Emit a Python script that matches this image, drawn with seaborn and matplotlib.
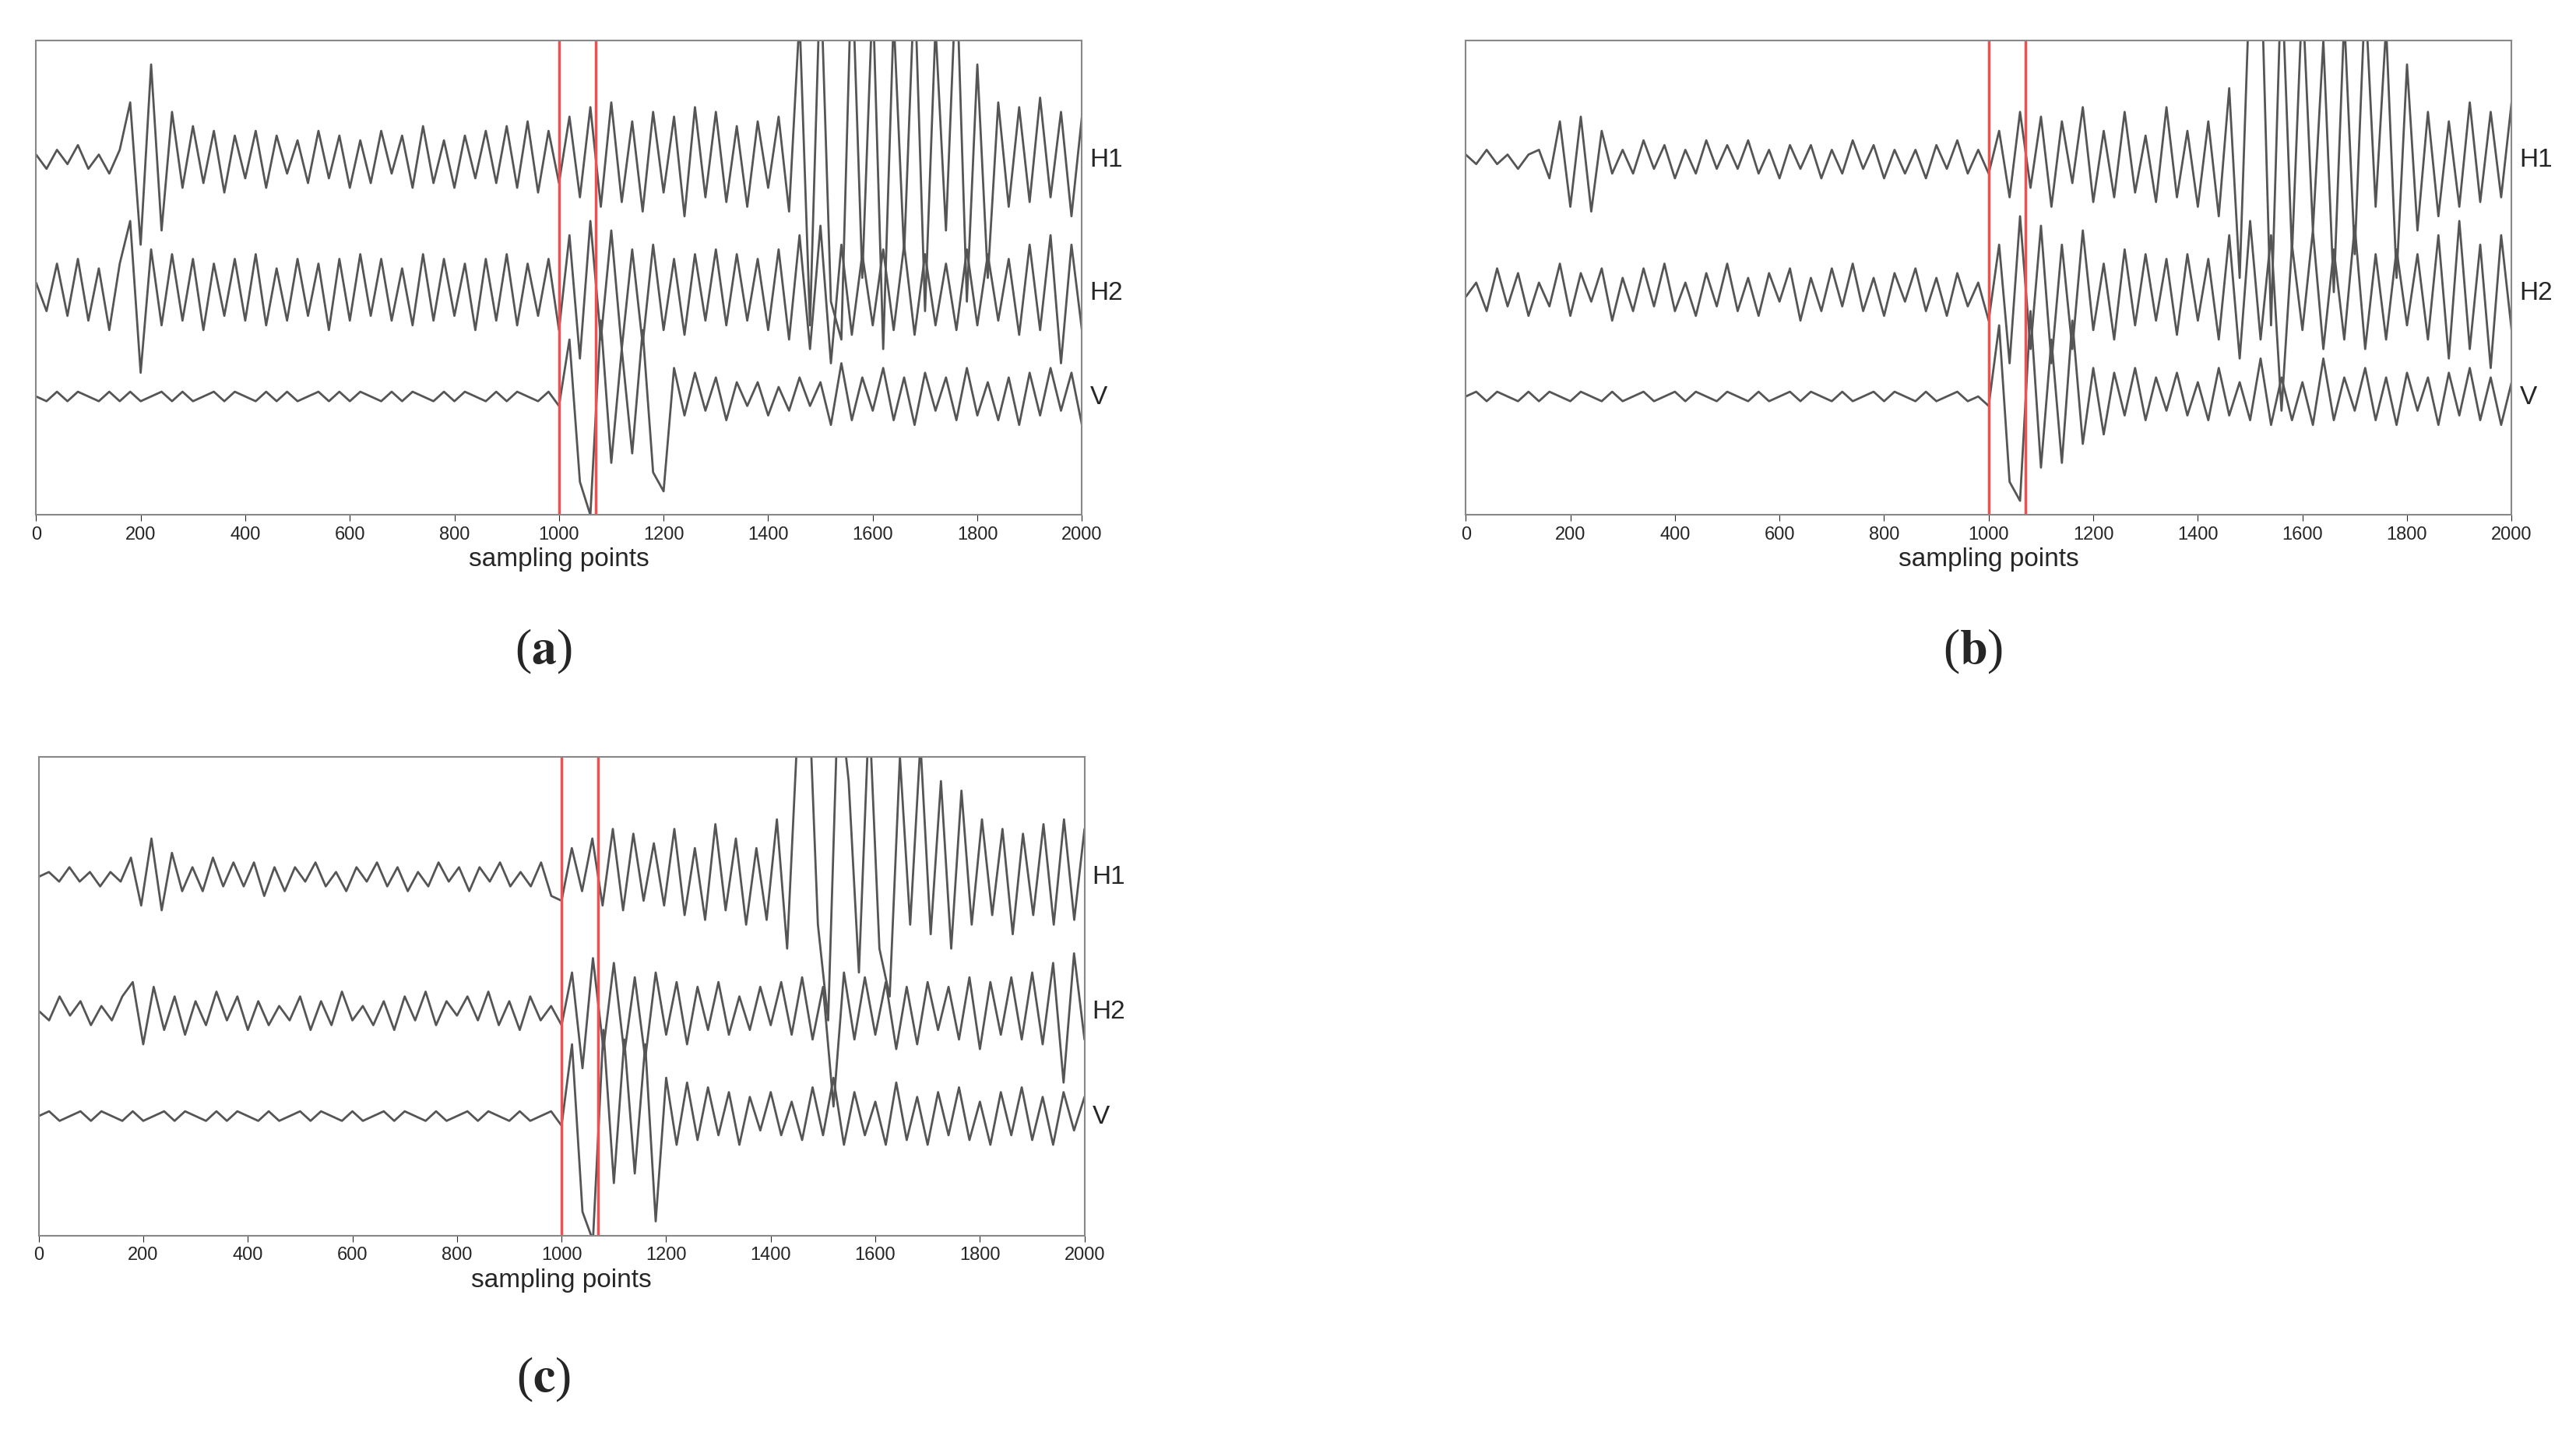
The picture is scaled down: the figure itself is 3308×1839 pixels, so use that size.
import numpy as np
import pandas as pd
import matplotlib
matplotlib.use("Agg")
import matplotlib.pyplot as plt
import seaborn as sns

sns.set_style("white")
plt.rcParams['font.family'] = ['Liberation Sans', 'DejaVu Sans']

# trace amplitudes, one value every ~20 sampling points
A_H1 = [1,-2,2,-1,3,-2,1,-3,2,12,-18,20,-15,10,-6,7,-5,6,-7,5,-4,6,-6,5,-3,4,-5,6,-4,5,-6,4,-5,6,-3,5,-6,7,-5,4,-6,5,-4,6,-5,7,-6,8,-7,6,-5,9,-8,11,-10,12,-9,8,-11,10,-7,9,-12,11,-8,10,-9,7,-10,8,-6,9,-11,30,-35,40,-30,-38,42,-25,35,-40,30,-20,38,-32,28,-15,40,-30,20,-25,12,-10,11,-9,13,-8,10,-12,9]
A_H2 = [2,-4,6,-5,7,-6,5,-8,6,15,-17,9,-7,8,-6,7,-8,6,-5,7,-6,8,-7,5,-6,7,-5,6,-8,7,-6,8,-5,7,-6,5,-7,8,-6,7,-5,6,-8,7,-6,8,-7,6,-5,7,-8,12,-14,15,-10,13,-12,9,-11,10,-8,7,-9,8,-6,9,-7,8,-6,7,-8,9,-10,12,-12,14,-15,10,-9,8,-7,9,-8,10,-9,8,-7,6,-8,9,-7,8,-6,7,-9,10,-8,12,-15,10,-8]
A_V = [0,-1,1,-1,1,0,-1,1,-1,1,-1,0,1,-1,1,-1,0,1,-1,1,0,-1,1,-1,1,-1,0,1,-1,1,-1,1,0,-1,1,-1,1,0,-1,1,-1,1,0,-1,1,-1,1,0,-1,1,-2,12,-18,-25,16,-14,10,-12,14,-16,-20,6,-4,5,-3,4,-5,3,-2,3,-4,2,-3,4,-2,3,-6,7,-5,4,-3,6,-5,4,-6,5,-3,4,-5,6,-4,3,-5,4,-6,5,-4,6,-3,5,-6]
B_H1 = [1,-1,2,-1,1,-2,1,2,-4,8,-10,9,-11,6,-3,2,-3,4,-2,3,-4,2,-3,4,-2,3,-2,4,-3,2,-4,3,-2,3,-4,2,-3,4,-2,3,-4,2,-3,2,-4,3,-2,4,-3,2,-3,6,-8,10,-6,9,-10,8,-5,11,-9,6,-8,10,-7,5,-9,11,-8,6,-10,8,-12,15,-25,40,45,-35,40,-20,35,-15,25,-28,30,-20,35,-10,28,-25,20,-15,10,-12,8,-10,12,-9,10,-8,12]
B_H2 = [-1,2,-4,5,-3,4,-5,2,-3,6,-5,4,-2,5,-6,3,-4,5,-3,6,-4,2,-5,4,-3,6,-4,3,-5,4,-2,5,-6,3,-4,5,-3,6,-4,3,-5,4,-2,5,-4,3,-5,4,-3,2,-6,10,-15,16,-12,14,-15,10,-12,13,-8,6,-10,9,-7,8,-6,7,-9,8,-6,7,-10,12,-14,15,-10,12,-25,10,-8,13,-12,9,-10,14,-12,8,-10,9,-7,8,-10,12,-14,15,-12,10,-16,12,-8]
B_V = [0,1,-1,1,0,-1,1,-1,1,0,-1,1,0,-1,1,-1,0,1,-1,0,1,-1,1,0,-1,1,0,-1,1,-1,0,1,-1,1,0,-1,1,-1,0,1,-1,1,0,-1,1,-1,0,1,-1,0,-2,15,-18,-22,18,-15,12,-14,16,-10,6,-8,5,-4,6,-5,4,-3,5,-4,3,-5,6,-4,3,-5,8,-6,4,-5,3,-6,8,-5,4,-3,6,-5,4,-6,5,-3,4,-6,5,-4,6,-5,4,-6,3]
C_H1 = [0,1,-1,2,-1,1,-2,1,-1,4,-6,8,-7,5,-3,2,-3,4,-2,3,-2,3,-4,2,-3,2,-1,3,-2,1,-3,2,-1,3,-2,2,-3,1,-2,3,-1,2,-3,2,-1,3,-2,1,-2,3,-4,-5,6,-3,8,-6,10,-7,9,-5,7,-6,10,-8,6,-9,11,-7,8,-10,6,-9,12,-15,30,45,-10,-30,40,20,-20,35,-15,-25,25,-10,28,-12,20,-15,18,-10,12,-8,10,-12,9,-8,11,-10,12,-9,10]
C_H2 = [0,-2,3,-1,2,-3,1,-2,3,6,-7,5,-4,3,-5,2,-3,4,-2,3,-4,2,-3,1,-2,3,-4,2,-3,4,-2,1,-3,2,-4,3,-2,4,-3,2,-1,3,-2,4,-3,2,-4,3,-2,1,-3,8,-12,11,-8,10,-9,7,-10,8,-5,6,-7,5,-4,6,-5,3,-4,5,-3,6,-5,7,-6,5,-20,8,-6,7,-5,6,-8,5,-7,6,-4,5,-6,7,-8,6,-5,7,-6,8,-7,10,-15,12,-6]
C_V = [0,1,-1,0,1,-1,1,0,-1,1,-1,0,1,-1,1,0,-1,1,-1,1,0,-1,1,-1,0,1,-1,1,0,-1,1,-1,0,1,-1,1,0,-1,1,-1,0,1,-1,1,0,-1,1,-1,0,1,-2,15,-20,-26,18,-14,16,-12,15,-22,8,-6,7,-5,6,-4,5,-6,4,-3,5,-4,3,-5,6,-4,8,-6,5,-4,3,-6,7,-5,4,-6,5,-4,6,-5,3,-6,5,-4,6,-5,4,-6,5,-3,4]

OFFSETS = {"H1": 75, "H2": 47, "V": 25}
XTICKS = list(range(0, 2001, 200))
PICKS = [1000, 1070]

panels = [
    ("a", [0.014, 0.640, 0.406, 0.331], {"H1": A_H1, "H2": A_H2, "V": A_V}, (0.211, 0.545)),
    ("b", [0.569, 0.640, 0.406, 0.331], {"H1": B_H1, "H2": B_H2, "V": B_V}, (0.766, 0.545)),
    ("c", [0.015, 0.137, 0.406, 0.334], {"H1": C_H1, "H2": C_H2, "V": C_V}, (0.211, 0.037)),
]

fig = plt.figure(figsize=(33.08, 18.40), dpi=100)
for letter, rect, traces, lpos in panels:
    ax = fig.add_axes(rect)
    for name, vals in traces.items():
        vals = np.asarray(vals, dtype=float)
        x = np.arange(len(vals)) * 2000.0 / (len(vals) - 1)
        sns.lineplot(x=x, y=vals + OFFSETS[name], ax=ax, color="#555555", lw=2.0)
        ax.text(2015, OFFSETS[name], name, fontsize=24, va="center", ha="left", clip_on=False)
    for p in PICKS:
        ax.axvline(p, color="#f05050", lw=2.5)
    ax.set_xlim(0, 2000)
    ax.set_ylim(0, 100)
    ax.set_yticks([])
    ax.set_xticks(XTICKS)
    ax.tick_params(axis="x", labelsize=17, length=6, direction="out", bottom=True)
    ax.set_xlabel("sampling points", fontsize=24, labelpad=4)
    for s in ax.spines.values():
        s.set_color("#888888")
        s.set_linewidth(1.5)
    fig.text(lpos[0], lpos[1], r"($\mathbf{" + letter + r"}$)", fontsize=46, ha="center", va="center",
             family="Liberation Serif", math_fontfamily="stix")

fig.savefig("out.png", dpi=100)
